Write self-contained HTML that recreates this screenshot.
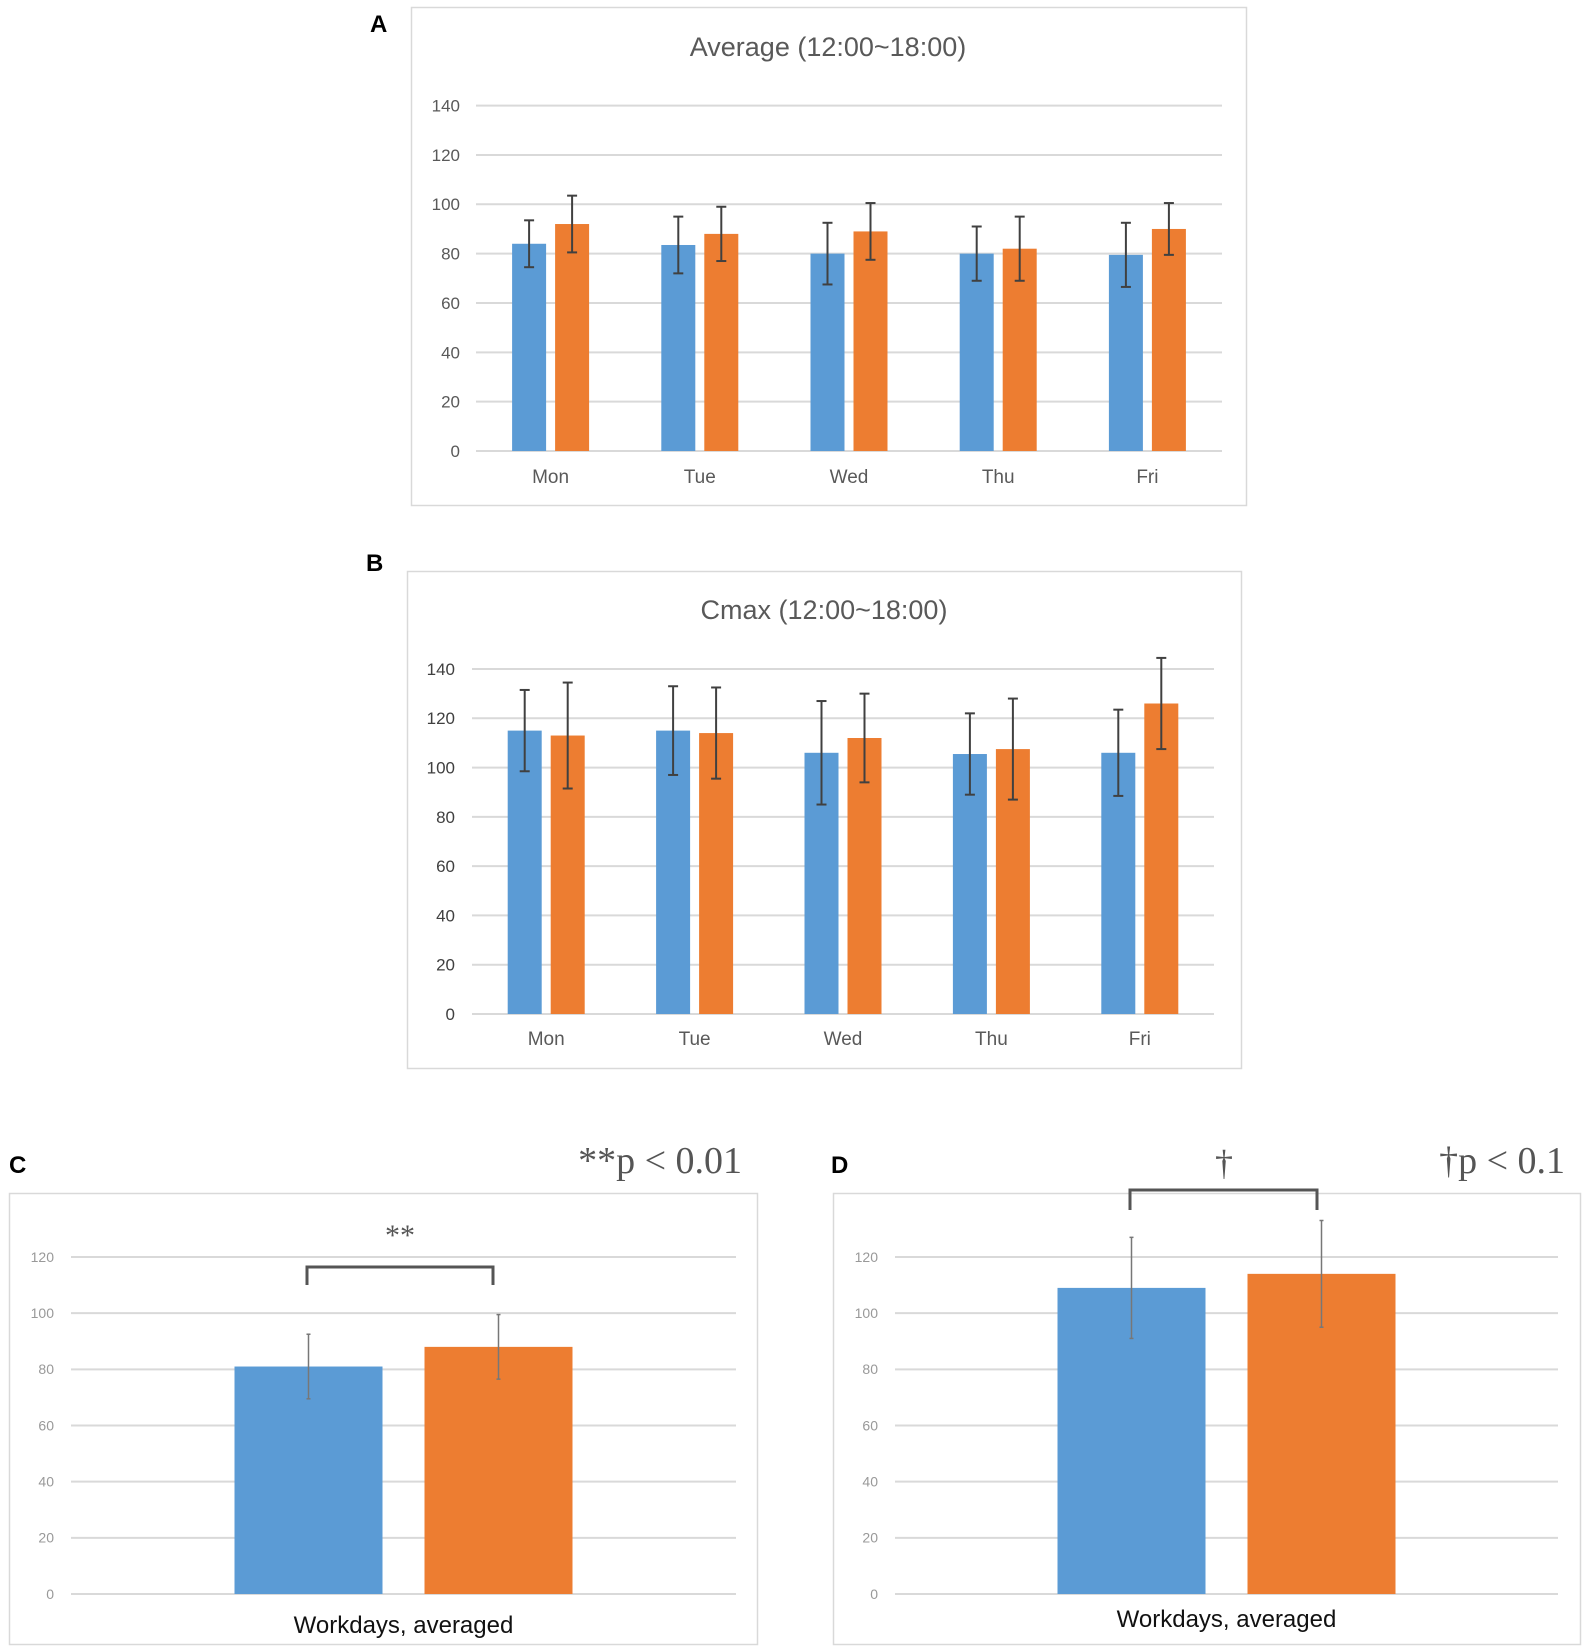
<!DOCTYPE html>
<html><head><meta charset="utf-8"><style>
html,body{margin:0;padding:0;background:#fff;}
svg{display:block;}
</style></head><body>
<svg id="fig" width="1595" height="1652" viewBox="0 0 1595 1652" xmlns="http://www.w3.org/2000/svg" font-family="Liberation Sans, sans-serif">
<rect width="1595" height="1652" fill="#fff"/>
<!-- panel frames -->
<rect x="411.5" y="7.5" width="835" height="498" fill="#fff" stroke="#d9d9d9" stroke-width="1.5"/>
<rect x="407.5" y="571.5" width="834" height="497" fill="#fff" stroke="#d9d9d9" stroke-width="1.5"/>
<rect x="9.5" y="1193.5" width="748" height="451" fill="#fff" stroke="#d9d9d9" stroke-width="1.5"/>
<rect x="833.5" y="1193.5" width="747" height="451" fill="#fff" stroke="#d9d9d9" stroke-width="1.5"/>
<text x="370" y="32" font-size="24" font-weight="bold" fill="#000">A</text>
<text x="366" y="571" font-size="24" font-weight="bold" fill="#000">B</text>
<text x="9" y="1173" font-size="24" font-weight="bold" fill="#000">C</text>
<text x="831" y="1173" font-size="24" font-weight="bold" fill="#000">D</text>
<text x="828" y="56" font-size="27" text-anchor="middle" fill="#595959">Average (12:00~18:00)</text>
<text x="824" y="619" font-size="27" text-anchor="middle" fill="#595959">Cmax (12:00~18:00)</text>
<text x="742" y="1173" font-size="38" text-anchor="end" fill="#555" font-family="Liberation Serif, serif">**p &lt; 0.01</text>
<text x="1565" y="1173" font-size="38" text-anchor="end" fill="#555" font-family="Liberation Serif, serif">†p &lt; 0.1</text>
<g id="plots"></g>
</svg>
<script>
// Panel A data
const catsA = ["Mon","Tue","Wed","Thu","Fri"];
const blueA = [84, 83.5, 80, 80, 79.5];
const orangeA = [92, 88, 89, 82, 90];
const blueErrA = [9.5, 11.5, 12.5, 11, 13];
const orangeErrA = [11.5, 11, 11.5, 13, 10.5];
// Panel B data
const catsB = ["Mon","Tue","Wed","Thu","Fri"];
const blueB = [115, 115, 106, 105.5, 106];
const orangeB = [113, 114, 112, 107.5, 126];
const blueErrB = [16.5, 18, 21, 16.5, 17.5];
const orangeErrB = [21.5, 18.5, 18, 20.5, 18.5];
// Panel C data
const catsC = ["Workdays, averaged"];
const blueC = [81];
const orangeC = [88];
const blueErrC = [11.5];
const orangeErrC = [11.5];
// Panel D data
const catsD = ["Workdays, averaged"];
const blueD = [109];
const orangeD = [114];
const blueErrD = [18];
const orangeErrD = [19];
// Tick labels
const ticksAB = [0,20,40,60,80,100,120,140];
const ticksCD = [0,20,40,60,80,100,120];

const NS = "http://www.w3.org/2000/svg";
const root = document.getElementById("plots");
function mk(tag, attrs, parent){
  const e = document.createElementNS(NS, tag);
  for (const k in attrs) e.setAttribute(k, attrs[k]);
  (parent||root).appendChild(e);
  return e;
}
function drawPanel(p){
  const y = v => p.y0 - (v / 20) * p.step;
  const band = (p.x1 - p.x0) / p.cats.length;
  const xc = i => p.x0 + band * (i + 0.5);
  p.ticks.forEach(t => {
    const g = mk("line", {x1:p.x0, x2:p.x1, y1:y(t), y2:y(t), stroke:"#d9d9d9", "stroke-width":p.gw});
    
    
    const tl = mk("text", {x:p.tx, y:y(t)+p.tfs*0.35, "font-size":p.tfs, "text-anchor":"end", fill:p.tcol});
    tl.textContent = t;
    
    
  });
  p.cats.forEach((c, i) => {
    const series = [[p.blue, p.blueErr, "#5B9BD5", -1], [p.orange, p.orangeErr, "#ED7D31", 1]];
    series.forEach(([vals, errs, col, side]) => {
      const cx = xc(i) + side * (p.gap/2 + p.bw/2);
      const r = mk("rect", {x:cx - p.bw/2, y:y(vals[i]), width:p.bw, height:p.y0 - y(vals[i]), fill:col});
      
      
      const top = y(vals[i] + errs[i]), bot = y(vals[i] - errs[i]);
      const eg = mk("g", {stroke:p.ecol, "stroke-width":p.ew});
      
      
      mk("line", {x1:cx, x2:cx, y1:top, y2:bot}, eg);
      mk("line", {x1:cx-p.cap, x2:cx+p.cap, y1:top, y2:top}, eg);
      mk("line", {x1:cx-p.cap, x2:cx+p.cap, y1:bot, y2:bot}, eg);
    });
    const cl = mk("text", {x:xc(i), y:p.cy, "font-size":p.cfs, "text-anchor":"middle", fill:p.ccol});
    cl.textContent = c;
    
    
  });
}
drawPanel({id:"panel-a", cats:catsA, blue:blueA, orange:orangeA, blueErr:blueErrA, orangeErr:orangeErrA,
  ticks:ticksAB, x0:476, x1:1222, y0:451, step:(451-105.6)/7, bw:34, gap:9, gw:2,
  tx:460, tfs:17, tcol:"#595959", ecol:"#404040", ew:2, cap:5, cy:483, cfs:19, ccol:"#595959"});
drawPanel({id:"panel-b", cats:catsB, blue:blueB, orange:orangeB, blueErr:blueErrB, orangeErr:orangeErrB,
  ticks:ticksAB, x0:472, x1:1214, y0:1014, step:(1014-669)/7, bw:34, gap:9, gw:2,
  tx:455, tfs:17, tcol:"#404040", ecol:"#404040", ew:2, cap:5, cy:1045, cfs:19, ccol:"#595959"});
drawPanel({id:"panel-c", cats:catsC, blue:blueC, orange:orangeC, blueErr:blueErrC, orangeErr:orangeErrC,
  ticks:ticksCD, x0:71, x1:736, y0:1594, step:(1594-1257)/6, bw:148, gap:42, gw:2,
  tx:54, tfs:14, tcol:"#999", ecol:"#777", ew:1.5, cap:2, cy:1633, cfs:24, ccol:"#111"});
drawPanel({id:"panel-d", cats:catsD, blue:blueD, orange:orangeD, blueErr:blueErrD, orangeErr:orangeErrD,
  ticks:ticksCD, x0:895, x1:1558, y0:1594, step:(1594-1257)/6, bw:148, gap:42, gw:2,
  tx:878, tfs:14, tcol:"#999", ecol:"#777", ew:1.5, cap:2, cy:1627, cfs:24, ccol:"#111"});

// significance brackets
const bc = mk("path", {d:"M307 1285 V1267 H493 V1285", fill:"none", stroke:"#555", "stroke-width":3});


const sc = mk("text", {x:400, y:1245, "font-size":30, "text-anchor":"middle", fill:"#555", "font-family":"Liberation Serif, serif"});
sc.textContent = "**";


const bd = mk("path", {d:"M1130 1210 V1190 H1317 V1210", fill:"none", stroke:"#555", "stroke-width":3});


const sd = mk("text", {x:1224, y:1175, "font-size":36, "text-anchor":"middle", fill:"#555", "font-family":"Liberation Serif, serif"});
sd.textContent = "†";


</script>
</body></html>
